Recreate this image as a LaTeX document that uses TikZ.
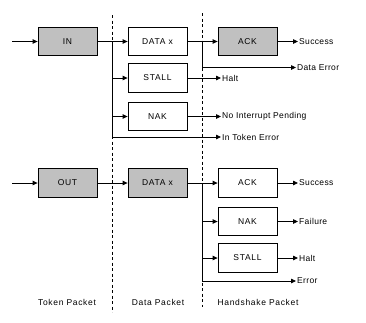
\documentclass[tikz,border=0pt]{standalone}
\usepackage{fontspec}
\setmainfont{Liberation Sans}
\newfontfamily\pktfont[LetterSpace=8]{Liberation Sans}
\newfontfamily\outfont[LetterSpace=4]{Liberation Sans}
\usepackage{xcolor}
\definecolor{pktgray}{HTML}{C0C0C0}
\usetikzlibrary{arrows.meta, positioning}

\tikzset{
  pktbox/.style={draw, line width=0.8pt, minimum width=59pt, minimum height=28.5pt,
    inner sep=0pt, font=\pktfont\fontsize{8.5}{10}\selectfont},
  graybox/.style={pktbox, fill=pktgray},
  outlbl/.style={anchor=west, inner sep=1pt, font=\outfont\fontsize{8.5}{10}\selectfont},
  collbl/.style={inner sep=0pt, font=\pktfont\fontsize{8.5}{10}\selectfont},
  flow/.style={line width=0.8pt, -{Triangle[length=5pt,width=4.5pt]}},
  wire/.style={line width=0.8pt},
  divider/.style={line width=0.8pt, dash pattern=on 3pt off 2.5pt}
}

\begin{document}
\begin{tikzpicture}[x=1pt,y=-1pt]
\useasboundingbox (0,0) rectangle (366,322);

% dividers between packet phases
\coordinate (divAtop) at (112.5,15);
\coordinate (divAbot) at (112.5,312);
\coordinate (divBtop) at (202.5,13);
\coordinate (divBbot) at (202.5,307);
\draw[divider] (divAtop) -- (divAbot);
\draw[divider] (divBtop) -- (divBbot);

% IN transaction
\node[graybox] (inTok) at (67.5,41.5) {IN};
\node[pktbox] (inData) at (157.5,41.5) {DATA x};
\node[pktbox] (inStall) at (157.5,78) {STALL};
\node[pktbox] (inNak) at (157.5,116.5) {NAK};
\node[graybox] (inAck) at (247.5,41.5) {ACK};

\coordinate (inStart) at (12,41.5);
\coordinate (inBus) at (112.5,41.5);
\coordinate (inDataBus) at (202.5,41.5);

\node[outlbl] (inSuccess) at (298,41.5) {Success};
\node[outlbl] (inDataErr) at (296,67.5) {Data Error};
\node[outlbl] (inHalt) at (221,78) {Halt};
\node[outlbl] (inNoInt) at (221,116.5) {No Interrupt Pending};
\node[outlbl] (inTokErr) at (221,137) {In Token Error};

\draw[flow] (inStart) -- (inTok);
\draw[flow] (inTok) -- (inData);
\draw[flow] (inBus |- inStall.west) -- (inStall);
\draw[flow] (inBus |- inNak.west) -- (inNak);
\draw[flow] (inBus) |- (inTokErr);
\draw[flow] (inData) -- (inAck);
\draw[flow] (inDataBus) |- (inDataErr);
\draw[flow] (inAck) -- (inSuccess);
\draw[flow] (inStall) -- (inHalt);
\draw[flow] (inNak) -- (inNoInt);

% OUT transaction
\node[graybox] (outTok) at (67.5,183) {OUT};
\node[graybox] (outData) at (157.5,183) {DATA x};
\node[pktbox] (outAck) at (247.5,183) {ACK};
\node[pktbox] (outNak) at (247.5,221.5) {NAK};
\node[pktbox] (outStall) at (247.5,258) {STALL};

\coordinate (outStart) at (12,183);
\coordinate (outBus) at (202.5,183);

\node[outlbl] (outSuccess) at (298,183) {Success};
\node[outlbl] (outFail) at (298,221.5) {Failure};
\node[outlbl] (outHalt) at (298,258) {Halt};
\node[outlbl] (outErr) at (296,281) {Error};

\draw[flow] (outStart) -- (outTok);
\draw[flow] (outTok) -- (outData);
\draw[flow] (outData) -- (outAck);
\draw[flow] (outBus |- outNak.west) -- (outNak);
\draw[flow] (outBus |- outStall.west) -- (outStall);
\draw[flow] (outBus) |- (outErr);
\draw[flow] (outAck) -- (outSuccess);
\draw[flow] (outNak) -- (outFail);
\draw[flow] (outStall) -- (outHalt);

% phase captions
\node[collbl] (capToken) at (67,302) {Token Packet};
\node[collbl] (capData) at (158,302) {Data Packet};
\node[collbl] (capHand) at (258,302) {Handshake Packet};
\end{tikzpicture}
\end{document}
